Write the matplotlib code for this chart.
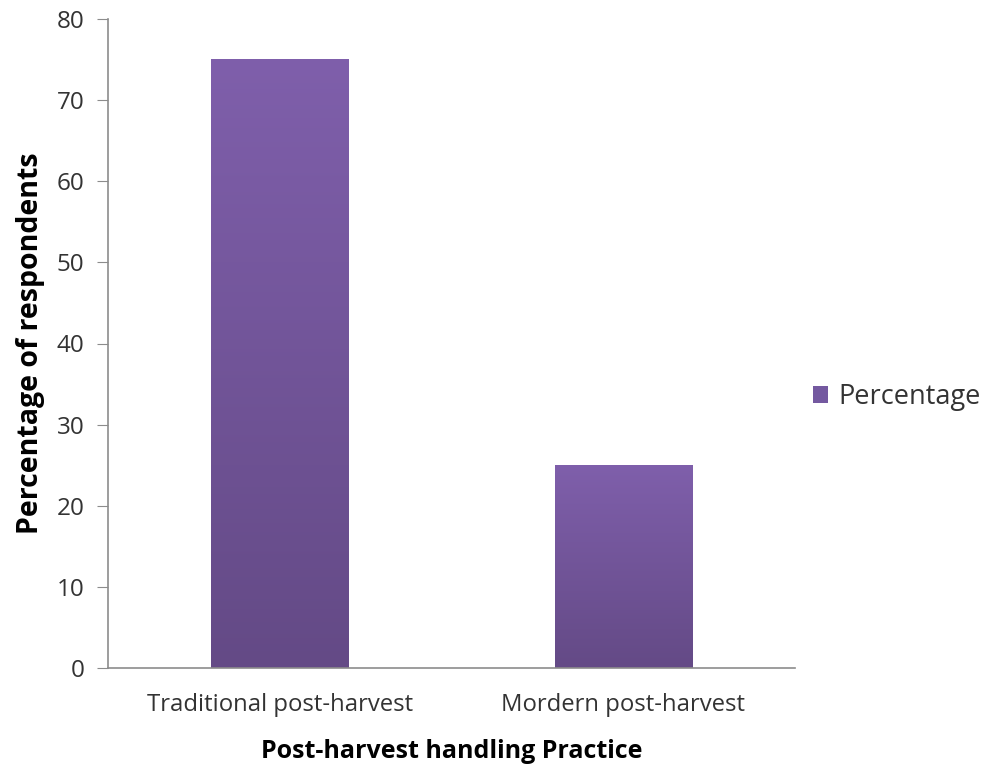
import matplotlib.pyplot as plt
import numpy as np
from matplotlib.colors import LinearSegmentedColormap
from matplotlib.patches import Patch

categories = ['Traditional post-harvest', 'Mordern post-harvest']
percentage = [75, 25]

plt.rcParams['font.family'] = ['Open Sans', 'DejaVu Sans']

fig = plt.figure(figsize=(9.98, 7.69), dpi=100)
ax = fig.add_axes([108 / 998, 1 - 668 / 769, 687 / 998, 649 / 769])

x = np.arange(len(categories))
width = 0.4
bars = ax.bar(x, percentage, width, color='none', edgecolor='none', label='Percentage')

# purple vertical gradient inside each bar
cmap = LinearSegmentedColormap.from_list('purp', ['#644A86', '#7F5FAB'])
grad = np.linspace(0, 1, 256).reshape(-1, 1)
for b in bars:
    x0, w, h = b.get_x(), b.get_width(), b.get_height()
    ax.imshow(grad, cmap=cmap, origin='lower', aspect='auto',
              extent=[x0, x0 + w, 0, h], zorder=2)

ax.set_xlim(-0.5, len(categories) - 0.5)
ax.set_ylim(0, 80)
ax.set_yticks(range(0, 81, 10))
ax.set_xticks(x)
ax.set_xticklabels(categories, fontsize=17.2, color='#333333')
ax.tick_params(axis='y', labelsize=17.5, labelcolor='#333333', length=8,
               color='#8c8c8c', pad=9)
ax.tick_params(axis='x', length=0, pad=18)

for side in ['top', 'right']:
    ax.spines[side].set_visible(False)
for side in ['left', 'bottom']:
    ax.spines[side].set_color('#8c8c8c')
    ax.spines[side].set_linewidth(1.2)

ax.set_ylabel('Percentage of respondents', fontsize=20.5, fontweight='bold', labelpad=8)
ax.set_xlabel('Post-harvest handling Practice', fontsize=18, fontweight='bold', labelpad=16)

ax.legend(handles=[Patch(facecolor='#7459A0', label='Percentage')],
          loc='center left', bbox_to_anchor=(802 / 998, 1 - 397 / 769),
          bbox_transform=fig.transFigure, frameon=False, borderaxespad=0,
          fontsize=19.5, handlelength=0.55, handleheight=0.55, handletextpad=0.4,
          labelcolor='#333333')

fig.savefig('out.png', dpi=100)
